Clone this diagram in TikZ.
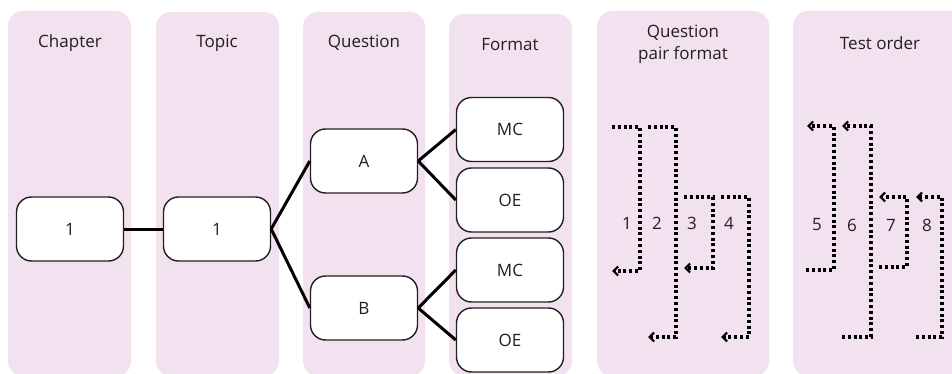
\documentclass[tikz,border=0pt]{standalone}
\usepackage{fontspec}
\setmainfont{Open Sans}
\usetikzlibrary{arrows.meta}
\definecolor{colbg}{RGB}{242,225,238}
\definecolor{txt}{RGB}{35,31,32}
\tikzset{
  column/.style={fill=colbg, rounded corners=15pt},
  coltitle/.style={text=txt, font=\fontsize{17}{20}\selectfont, align=center},
  box/.style={draw=txt, line width=1.4pt, fill=white, rounded corners=15pt,
    minimum width=107pt, minimum height=64pt, inner sep=0pt, text=txt,
    font=\fontsize{17}{20}\selectfont},
  conn/.style={line width=3pt, draw=black},
  dotline/.style={line width=3.1pt, dash pattern=on 3pt off 2.8pt, draw=black},
  arr/.style={-{Straight Barb[length=4.5pt,width=9pt,line width=2.2pt]}},
  num/.style={text=txt, font=\fontsize{17}{20}\selectfont}
}
\begin{document}
\begin{tikzpicture}[x=1pt,y=-1pt]
\useasboundingbox (0,0) rectangle (952,374);
\clip (0,0) rectangle (952,374);
% columns
\fill[column] (8,11) rectangle (131,376);
\fill[column] (156,12) rectangle (279,376);
\fill[column] (303,12) rectangle (425,376);
\fill[column] (449,14) rectangle (572,376);
\fill[column] (597,11) rectangle (769,376);
\fill[column] (793,11) rectangle (975,376);
% titles
\node[coltitle] (tch) at (70,43) {Chapter};
\node[coltitle] (ttp) at (217,43) {Topic};
\node[coltitle] (tq) at (364,43) {Question};
\node[coltitle] (tf) at (510,45) {Format};
\node[coltitle] (tqp) at (683,44.5) {Question\\[2pt]pair format};
\node[coltitle] (tto) at (880,43) {Test order};
% boxes
\node[box] (ch) at (70,229) {1};
\node[box] (tp) at (217,229) {1};
\node[box] (qa) at (364,161) {A};
\node[box] (qb) at (364,308) {B};
\node[box] (mc1) at (510,129.5) {MC};
\node[box] (oe1) at (510,200) {OE};
\node[box] (mc2) at (510,270) {MC};
\node[box] (oe2) at (510,340) {OE};
% connectors
\draw[conn] (ch.east) -- (tp.west);
\draw[conn] (tp.east) -- (qa.west);
\draw[conn] (tp.east) -- (qb.west);
\draw[conn] (qa.east) -- (mc1.west);
\draw[conn] (qa.east) -- (oe1.west);
\draw[conn] (qb.east) -- (mc2.west);
\draw[conn] (qb.east) -- (oe2.west);
% question pair format
\draw[dotline,arr] (612,127) -- (640,127) -- (640,271) -- (612,271);
\draw[dotline,arr] (648,127) -- (676,127) -- (676,337) -- (648,337);
\draw[dotline,arr] (684,197) -- (713,197) -- (713,268) -- (684,268);
\draw[dotline,arr] (721,197) -- (749,197) -- (749,337) -- (721,337);
\node[num] (n1) at (627,223) {1};
\node[num] (n2) at (657,223) {2};
\node[num] (n3) at (692,223) {3};
\node[num] (n4) at (729,223) {4};
% test order
\draw[dotline,arr] (806,270) -- (834,270) -- (834,126) -- (807,126);
\draw[dotline,arr] (842,337) -- (871,337) -- (871,126) -- (842,126);
\draw[dotline,arr] (879,267) -- (907,267) -- (907,197) -- (879,197);
\draw[dotline,arr] (916,337) -- (942,337) -- (942,197) -- (916,197);
\node[num] (n5) at (817,225) {5};
\node[num] (n6) at (852,225) {6};
\node[num] (n7) at (891,225) {7};
\node[num] (n8) at (927,225) {8};
\end{tikzpicture}
\end{document}
